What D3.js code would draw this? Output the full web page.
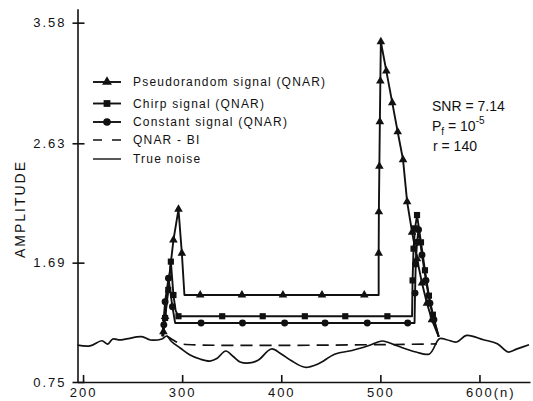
<!DOCTYPE html>
<html lang="en">
<head>
<meta charset="UTF-8" />
<title>QNAR amplitude</title>
<script src="https://d3js.org/d3.v7.min.js"></script>
<style>
  body { margin: 0; background: #fff; }
  svg { display: block; background: #fff; font-family: "Liberation Sans", Arial, sans-serif; }
  .axis path, .axis line { stroke: #111; stroke-width: 1.6; }
  .axis text { font-family: "Liberation Sans", Arial, sans-serif; font-size: 13px; letter-spacing: 2px; fill: #111; }
  .sig { fill: none; stroke: #111; stroke-width: 1.9; stroke-linejoin: round; }
  .noise { fill: none; stroke: #111; stroke-width: 1.7; }
  .bi { fill: none; stroke: #111; stroke-width: 1.7; stroke-dasharray: 12 7; }
  .legend-text { font-size: 12px; letter-spacing: 1.2px; fill: #111; }
  .note { font-size: 14px; fill: #111; }
</style>
</head>
<body>
<svg id="chart" width="533" height="401"></svg>
<script>
// ticks
const xTicks = [200, 300, 400, 500, 600];
const xTickLabels = ["200", "300", "400", "500", "600(n)"];
const yTicks = [0.75, 1.69, 2.63, 3.58];
const yTickLabels = ["0.75", "1.69", "2.63", "3.58"];

// series names (legend order)
const seriesNames = ["Pseudorandom signal (QNAR)", "Chirp signal (QNAR)", "Constant signal (QNAR)", "QNAR - BI", "True noise"];

// [n, amplitude]
const trueNoise = [[194.4,1.041],[207,1.034],[219,1.075],[225,1.049],[230,1.089],[237,1.081],[244,1.089],[259,1.107],
  [268,1.081],[279.5,1.089],[284.5,1.112],[289.5,1.067],[298,1.018],[308,0.963],[318,0.931],[328,0.915],[335,0.935],
  [344,0.994],[351.5,0.951],[358.5,0.908],[368,0.900],[377,0.923],[390,1.010],[400,0.971],[410,0.919],[424,0.866],
  [437,0.892],[454.5,0.971],[471.5,0.998],[488.5,1.037],[502,1.073],[516,1.037],[536,0.986],[549.5,0.971],[559.6,1.091],
  [567,1.083],[577,1.065],[587,1.117],[604,1.083],[618,1.051],[629,0.986],[638,1.011],[650,1.043]];

const qnarBI = [[284.5,1.112],[290,1.085],[295,1.062],[299,1.05],[557,1.05]];

const pseudoLine = [[281,1.11],[282.8,1.265],[287,1.58],[291.2,1.868],[296.3,2.11],[299.7,1.764],[302.3,1.435],
  [498.3,1.435],[498.3,1.764],[498.5,2.09],[499,2.45],[499.5,2.8],[500,3.12],[500.5,3.43],[506,3.2],[512,2.95],
  [517.5,2.72],[522.9,2.5],[527,2.17],[532,1.93],[537,1.72],[542,1.53],[547,1.37],[552,1.24],[558.9,1.107]];
const pseudoMarks = [[281.1,1.146],[282.8,1.265],[291.2,1.868],[296.3,2.11],[299.7,1.764],[318.2,1.435],[360.3,1.435],
  [401.7,1.435],[441.1,1.435],[483.8,1.435],[498.3,1.764],[498.5,2.09],[499,2.45],[499.5,2.8],[500,3.12],[500.5,3.43],
  [506,3.2],[512,2.95],[517.5,2.72],[522.9,2.5],[527,2.17],[532,1.93],[537,1.72],[542,1.53],[547,1.37],[552,1.24]];

const chirpLine = [[280,1.11],[282.8,1.254],[286,1.475],[288.6,1.698],[291.2,1.435],[293.5,1.31],[296.3,1.268],
  [532,1.268],[532.5,1.55],[533.5,1.8],[535,1.96],[537,2.065],[541,1.85],[545,1.63],[549,1.43],[553,1.28],[558.9,1.107]];
const chirpMarks = [[282.8,1.254],[286,1.475],[288.6,1.698],[291.2,1.435],[296.3,1.268],[340.4,1.268],[381.3,1.268],
  [423.8,1.268],[464.6,1.268],[507.1,1.268],[532.5,1.55],[533.5,1.8],[535,1.96],[537,2.065],[541,1.85],[545,1.63],
  [549,1.43],[553,1.28]];

const constLine = [[280,1.11],[282.8,1.383],[286.2,1.567],[290.2,1.343],[292.9,1.215],[534.5,1.215],[535,1.45],
  [535.7,1.68],[537,1.85],[538.5,1.95],[542,1.75],[546,1.55],[550,1.37],[554,1.24],[558.9,1.107]];
const constMarks = [[281.5,1.2],[282.8,1.383],[286.2,1.567],[290.2,1.343],[319.1,1.215],[360.9,1.215],[403.4,1.215],
  [444.2,1.215],[486.8,1.215],[527.6,1.215],[535,1.45],[535.7,1.68],[537,1.85],[538.5,1.95],[542,1.75],[546,1.55],
  [550,1.37],[554,1.24]];

const svg = d3.select("#chart");
const x = d3.scaleLinear().domain([194.4, 651]).range([77.5, 530]);
const y = d3.scaleLinear().domain([0.75, 3.69]).range([382, 8.7]);

// axes
svg.append("g").attr("class", "axis")
  .attr("transform", `translate(0,${y(0.75)})`)
  .call(d3.axisBottom(x).tickValues(xTicks).tickFormat((d, i) => xTickLabels[i])
    .tickSizeInner(-7).tickSizeOuter(0).tickPadding(6))
  .call(g => g.attr("font-family", null).attr("font-size", null))
  .call(g => g.selectAll(".tick text").filter((d, i) => i === 4).attr("text-anchor", "start").attr("dx", -14));

svg.append("g").attr("class", "axis")
  .attr("transform", `translate(${x(194.4)},0)`)
  .call(d3.axisLeft(y).tickValues(yTicks).tickFormat((d, i) => yTickLabels[i])
    .tickSizeInner(-7).tickSizeOuter(0).tickPadding(11))
  .call(g => g.attr("font-family", null).attr("font-size", null))
  .call(g => g.selectAll(".tick line").attr("x1", -5));

svg.append("text").attr("class", "note")
  .attr("transform", `translate(25,209) rotate(-90)`)
  .attr("text-anchor", "middle").style("letter-spacing", "2px")
  .text("AMPLITUDE");

// lines
const line = d3.line().x(d => x(d[0])).y(d => y(d[1]));
const smooth = d3.line().x(d => x(d[0])).y(d => y(d[1])).curve(d3.curveCatmullRom);

svg.append("path").attr("class", "noise").attr("d", smooth(trueNoise));
svg.append("path").attr("class", "bi").attr("d", smooth(qnarBI));

const series = [
  { line: pseudoLine, marks: pseudoMarks, sym: d3.symbolTriangle, size: 32 },
  { line: chirpLine, marks: chirpMarks, sym: d3.symbolSquare, size: 38 },
  { line: constLine, marks: constMarks, sym: d3.symbolCircle, size: 38 }
];

series.forEach(s => {
  svg.append("path").attr("class", "sig").attr("d", line(s.line));
  svg.append("g").selectAll("path")
    .data(s.marks)
    .join("path")
    .attr("transform", d => `translate(${x(d[0])},${y(d[1])})`)
    .attr("d", d3.symbol(s.sym, s.size))
    .attr("fill", "#111");
});

// legend
const legRows = [82, 103.5, 122, 140, 159];
const legend = svg.append("g");
seriesNames.forEach((name, i) => {
  const row = legend.append("g").attr("transform", `translate(0,${legRows[i]})`);
  if (i < 3) {
    row.append("line").attr("x1", 93).attr("x2", 121).attr("stroke", "#111").attr("stroke-width", 1.9);
    row.append("path").attr("transform", "translate(107,0)")
      .attr("d", d3.symbol(series[i].sym, i === 0 ? 42 : 46)).attr("fill", "#111");
  } else if (i === 3) {
    row.append("line").attr("x1", 93).attr("x2", 121).attr("stroke", "#111").attr("stroke-width", 1.6)
      .attr("stroke-dasharray", "9 10");
  } else {
    row.append("line").attr("x1", 93).attr("x2", 121).attr("stroke", "#111").attr("stroke-width", 1.4);
  }
  row.append("text").attr("class", "legend-text").attr("x", 133).attr("dy", "0.35em").text(name);
});

// parameters
const note = svg.append("g").attr("class", "note");
note.append("text").attr("x", 432).attr("y", 110.5).text("SNR = 7.14");
const pf = note.append("text").attr("x", 432).attr("y", 130.5);
pf.append("tspan").text("P");
pf.append("tspan").attr("dy", 4).style("font-size", "10px").text("f");
pf.append("tspan").attr("dy", -4).text(" = 10");
pf.append("tspan").attr("dy", -7).style("font-size", "10px").text("-5");
note.append("text").attr("x", 433).attr("y", 150.5).text("r = 140");
</script>
</body>
</html>
